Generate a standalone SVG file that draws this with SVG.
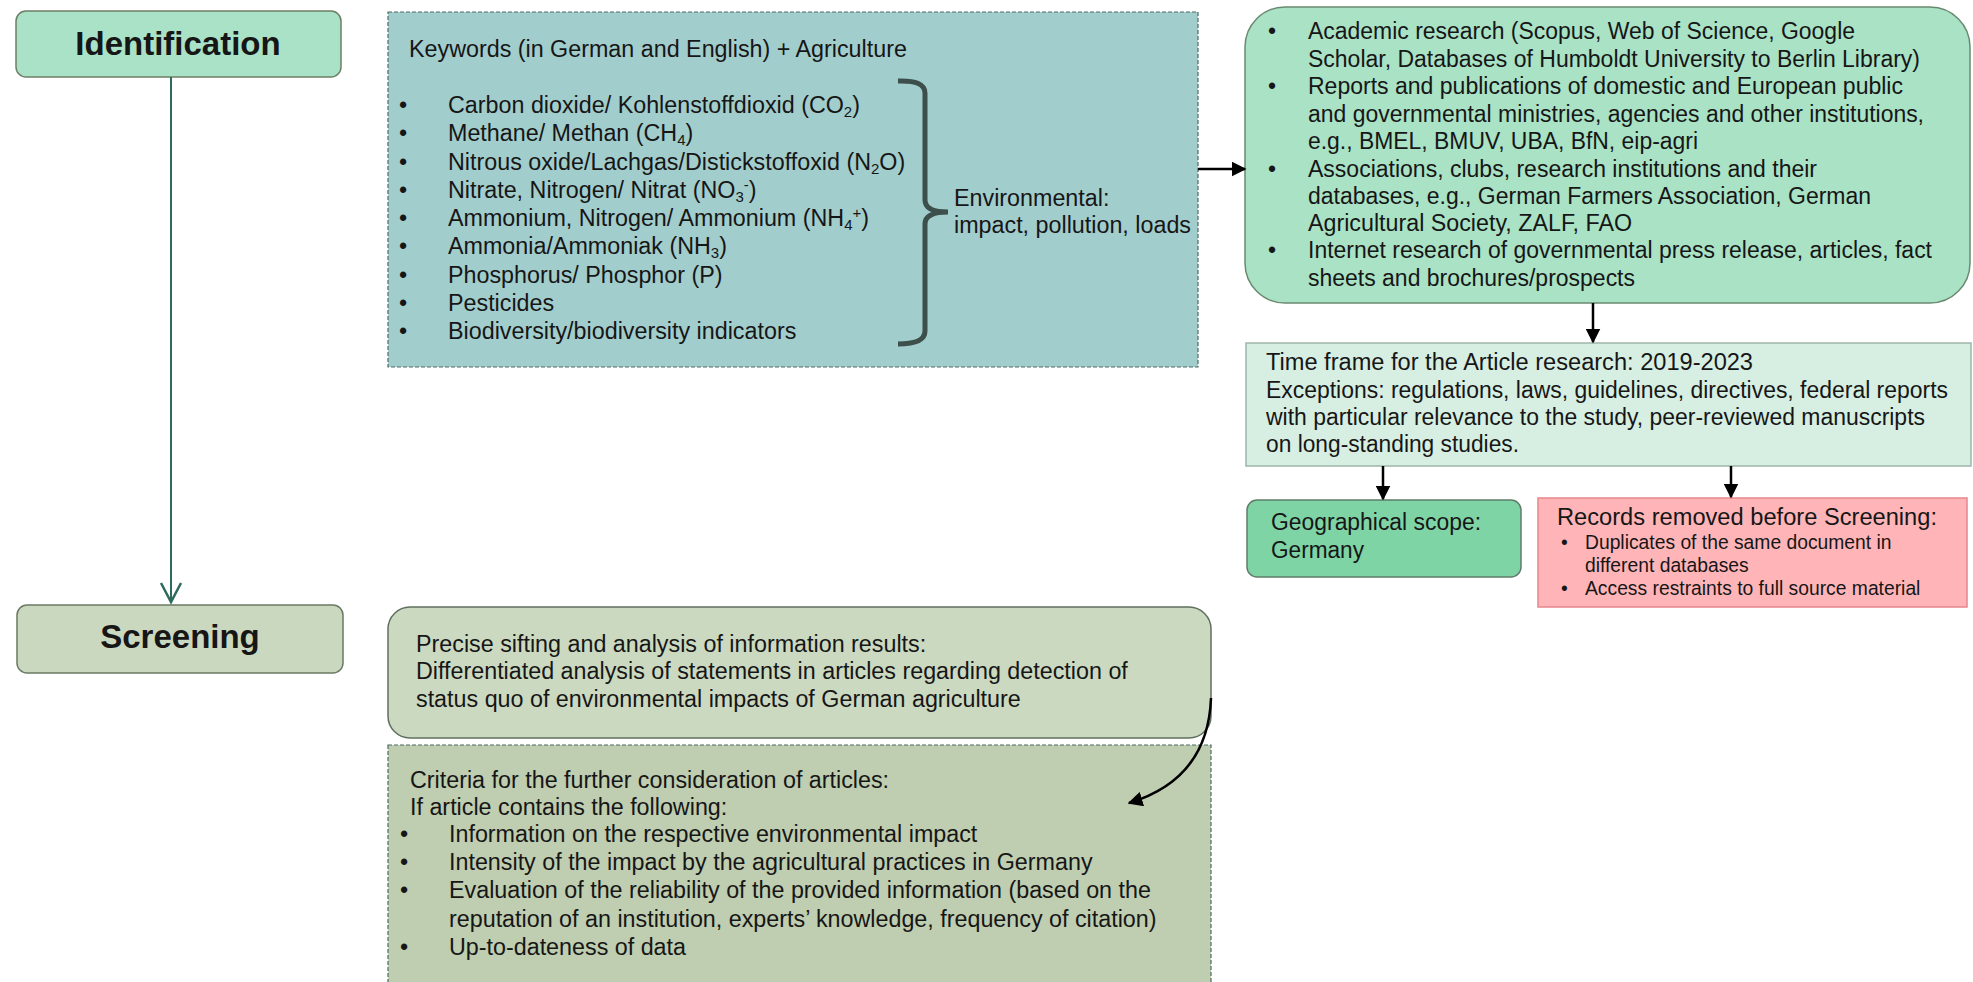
<svg xmlns="http://www.w3.org/2000/svg" width="1973" height="982" viewBox="0 0 1973 982">
<defs>
<style>
text{font-family:"Liberation Sans",Arial,sans-serif;fill:#161616;}
.t{font-size:23px;}
.k{font-size:23.3px;}
.r{font-size:19.3px;}
.h{font-size:33px;font-weight:bold;text-anchor:middle;}
.sub{font-size:15px;}
.c{fill:none;stroke:#000;stroke-width:2.5;}
</style>
<marker id="ah" viewBox="0 0 10 10" refX="9" refY="5" markerWidth="6" markerHeight="6" orient="auto" markerUnits="strokeWidth"><path d="M0,0 L10,5 L0,10 Z" fill="#000"/></marker>
</defs>
<rect width="1973" height="982" fill="#fff"/>
<g id="identification">
<rect x="16" y="11" width="325" height="66" rx="10" fill="#a9e2c6" stroke="#6c7f66" stroke-width="1.5"/>
<text class="h" x="178" y="55">Identification</text>
</g>
<g id="screening">
<rect x="17" y="605" width="326" height="68" rx="10" fill="#cbd8c0" stroke="#6b7a62" stroke-width="1.5"/>
<text class="h" x="180" y="648">Screening</text>
</g>
<g id="keywords">
<rect x="388" y="12" width="810" height="355" fill="#a2cdcd" stroke="#4f6a68" stroke-width="1.2" stroke-dasharray="4,2"/>
<text class="k" x="409" y="57">Keywords (in German and English) + Agriculture</text>
<text class="k" x="399" y="113">•</text><text class="k" x="448" y="113">Carbon dioxide/ Kohlenstoffdioxid (CO<tspan class="sub" dy="4">2</tspan><tspan dy="-4">)</tspan></text>
<text class="k" x="399" y="141">•</text><text class="k" x="448" y="141">Methane/ Methan (CH<tspan class="sub" dy="4">4</tspan><tspan dy="-4">)</tspan></text>
<text class="k" x="399" y="170">•</text><text class="k" x="448" y="170">Nitrous oxide/Lachgas/Distickstoffoxid (N<tspan class="sub" dy="4">2</tspan><tspan dy="-4">O)</tspan></text>
<text class="k" x="399" y="198">•</text><text class="k" x="448" y="198">Nitrate, Nitrogen/ Nitrat (NO<tspan class="sub" dy="4">3</tspan><tspan class="sub" dy="-12">-</tspan><tspan dy="8">)</tspan></text>
<text class="k" x="399" y="226">•</text><text class="k" x="448" y="226">Ammonium, Nitrogen/ Ammonium (NH<tspan class="sub" dy="4">4</tspan><tspan class="sub" dy="-12">+</tspan><tspan dy="8">)</tspan></text>
<text class="k" x="399" y="254">•</text><text class="k" x="448" y="254">Ammonia/Ammoniak (NH<tspan class="sub" dy="4">3</tspan><tspan dy="-4">)</tspan></text>
<text class="k" x="399" y="283">•</text><text class="k" x="448" y="283">Phosphorus/ Phosphor (P)</text>
<text class="k" x="399" y="311">•</text><text class="k" x="448" y="311">Pesticides</text>
<text class="k" x="399" y="339">•</text><text class="k" x="448" y="339">Biodiversity/biodiversity indicators</text>
<path d="M898,81 Q925,80 925,93 L925,200 Q925,212 948,212 Q925,212 925,224 L925,331 Q925,344 898,344" fill="none" stroke="#3d4f4b" stroke-width="5"/>
<text class="k" x="954" y="206">Environmental:</text>
<text class="k" x="954" y="233">impact, pollution, loads</text>
</g>
<g id="sources">
<rect x="1245" y="7" width="725" height="296" rx="40" fill="#a9e2c5" stroke="#6a8a70" stroke-width="1.5"/>
<text class="t" x="1268" y="39">•</text><text class="t" x="1308" y="39" textLength="547" lengthAdjust="spacingAndGlyphs">Academic research (Scopus, Web of Science, Google</text>
<text class="t" x="1308" y="67" textLength="612" lengthAdjust="spacingAndGlyphs">Scholar, Databases of Humboldt University to Berlin Library)</text>
<text class="t" x="1268" y="94">•</text><text class="t" x="1308" y="94" textLength="595" lengthAdjust="spacingAndGlyphs">Reports and publications of domestic and European public</text>
<text class="t" x="1308" y="122" textLength="616" lengthAdjust="spacingAndGlyphs">and governmental ministries, agencies and other institutions,</text>
<text class="t" x="1308" y="149" textLength="390" lengthAdjust="spacingAndGlyphs">e.g., BMEL, BMUV, UBA, BfN, eip-agri</text>
<text class="t" x="1268" y="177">•</text><text class="t" x="1308" y="177" textLength="509" lengthAdjust="spacingAndGlyphs">Associations, clubs, research institutions and their</text>
<text class="t" x="1308" y="204" textLength="563" lengthAdjust="spacingAndGlyphs">databases, e.g., German Farmers Association, German</text>
<text class="t" x="1308" y="231" textLength="324" lengthAdjust="spacingAndGlyphs">Agricultural Society, ZALF, FAO</text>
<text class="t" x="1268" y="258">•</text><text class="t" x="1308" y="258" textLength="624" lengthAdjust="spacingAndGlyphs">Internet research of governmental press release, articles, fact</text>
<text class="t" x="1308" y="286" textLength="327" lengthAdjust="spacingAndGlyphs">sheets and brochures/prospects</text>
</g>
<g id="timeframe">
<rect x="1246" y="343" width="725" height="123" fill="#d6efe2" stroke="#9fb5aa" stroke-width="1.5"/>
<text class="t" x="1266" y="370" textLength="487" lengthAdjust="spacingAndGlyphs">Time frame for the Article research: 2019-2023</text>
<text class="t" x="1266" y="398" textLength="682" lengthAdjust="spacingAndGlyphs">Exceptions: regulations, laws, guidelines, directives, federal reports</text>
<text class="t" x="1266" y="425" textLength="659" lengthAdjust="spacingAndGlyphs">with particular relevance to the study, peer-reviewed manuscripts</text>
<text class="t" x="1266" y="452" textLength="253" lengthAdjust="spacingAndGlyphs">on long-standing studies.</text>
</g>
<g id="geographical">
<rect x="1247" y="500" width="274" height="77" rx="10" fill="#7fd4a6" stroke="#5f7d6a" stroke-width="1.5"/>
<text class="t" x="1271" y="530" textLength="210" lengthAdjust="spacingAndGlyphs">Geographical scope:</text>
<text class="t" x="1271" y="558" textLength="93" lengthAdjust="spacingAndGlyphs">Germany</text>
</g>
<g id="records">
<rect x="1538" y="498" width="429" height="109" fill="#ffb5b8" stroke="#e8868b" stroke-width="1.5"/>
<text class="t" x="1557" y="525" textLength="380" lengthAdjust="spacingAndGlyphs">Records removed before Screening:</text>
<text class="r" x="1561" y="549">•</text><text class="r" x="1585" y="549">Duplicates of the same document in</text>
<text class="r" x="1585" y="572">different databases</text>
<text class="r" x="1561" y="595">•</text><text class="r" x="1585" y="595">Access restraints to full source material</text>
</g>
<g id="precise">
<rect x="388" y="607" width="823" height="131" rx="22" fill="#ccd9c1" stroke="#5f705f" stroke-width="1.5"/>
<text class="k" x="416" y="652">Precise sifting and analysis of information results:</text>
<text class="k" x="416" y="679">Differentiated analysis of statements in articles regarding detection of</text>
<text class="k" x="416" y="707">status quo of environmental impacts of German agriculture</text>
</g>
<g id="criteria">
<rect x="388" y="745" width="823" height="250" fill="#bfcdb0" stroke="#4a6b62" stroke-width="1.2" stroke-dasharray="4,2"/>
<text class="k" x="410" y="788">Criteria for the further consideration of articles:</text>
<text class="k" x="410" y="815">If article contains the following:</text>
<text class="k" x="400" y="842">•</text><text class="k" x="449" y="842">Information on the respective environmental impact</text>
<text class="k" x="400" y="870">•</text><text class="k" x="449" y="870">Intensity of the impact by the agricultural practices in Germany</text>
<text class="k" x="400" y="898">•</text><text class="k" x="449" y="898">Evaluation of the reliability of the provided information (based on the</text>
<text class="k" x="449" y="927">reputation of an institution, experts’ knowledge, frequency of citation)</text>
<text class="k" x="400" y="955">•</text><text class="k" x="449" y="955">Up-to-dateness of data</text>
</g>
<g id="connectors">
<line x1="171" y1="77" x2="171" y2="602" stroke="#2e6a5e" stroke-width="2"/>
<polyline points="161,583 171,602 181,583" fill="none" stroke="#2e6a5e" stroke-width="2.5"/>
<line class="c" x1="1198" y1="169" x2="1245" y2="169" marker-end="url(#ah)"/>
<line class="c" x1="1593" y1="303" x2="1593" y2="342" marker-end="url(#ah)"/>
<line class="c" x1="1383" y1="466" x2="1383" y2="499" marker-end="url(#ah)"/>
<line class="c" x1="1731" y1="466" x2="1731" y2="497" marker-end="url(#ah)"/>
<path class="c" d="M1211,698 C1209,752 1182,787 1129,803" marker-end="url(#ah)"/>
</g>
</svg>
